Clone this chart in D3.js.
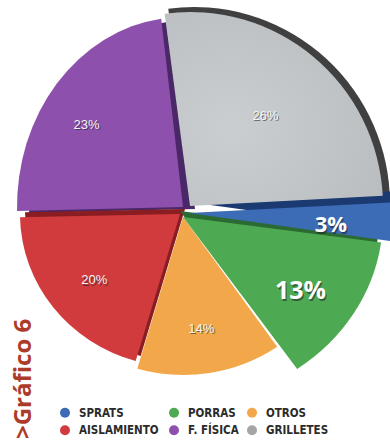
<!DOCTYPE html>
<html>
<head>
<meta charset="utf-8">
<script src="https://cdn.jsdelivr.net/npm/d3@7"></script>
<style>
  body { margin: 0; background: #fff; }
  svg { display: block; }
  .legend text {
    font-family: "DejaVu Sans Condensed", "DejaVu Sans", sans-serif;
    font-stretch: condensed;
    font-weight: bold;
    font-size: 11.5px;
    fill: #2b2b2b;
  }
  .title {
    font-family: "Open Sans", sans-serif;
    font-weight: bold;
    font-size: 24px;
    fill: #ad3b2b;
  }
</style>
</head>
<body>
<script>

    // data
    var categories = ["SPRATS", "PORRAS", "OTROS", "AISLAMIENTO", "F. FÍSICA", "GRILLETES"];
    var values = [3, 13, 14, 20, 23, 26];
    var labels = ["3%", "13%", "14%", "20%", "23%", "26%"];

    var colors = ["#3b6cb5", "#4eaa52", "#f2a84a", "#d23b3e", "#8d50ad", "#c2c5c8"];
    var shades = ["#1b3a72", "#2b6a32", "#d38a33", "#8a1d21", "#4a2766", "#404040"];
    var dots = ["#3b6cb5", "#4eaa52", "#f2a84a", "#d23b3e", "#8d50ad", "#a3a5a7"];

    // per slice drawing: apex, radii, side offset (3d wall), label radius and nudge
    var slices = [
        {cx: 189, cy: 213, rx: 210, ry: 210, side: [0, -11], lr: 142, dy: 4, size: 22, big: true},
        {cx: 183, cy: 217, rx: 200, ry: 185, side: [-3, -6], lr: 138, dy: 0, size: 25, big: true},
        {cx: 183, cy: 217, rx: 165, ry: 158, side: [0, 0], lr: 113, dy: 0, size: 13},
        {cx: 180, cy: 214, rx: 160, ry: 153, side: [5, -5], lr: 108, dy: 0, size: 13},
        {cx: 183, cy: 207, rx: 166, ry: 190, side: [12, 2], lr: 127, dy: 0, size: 13},
        {cx: 190, cy: 206, rx: 193, ry: 194, side: [4, -2], lr: 118, dy: 0, size: 13}
    ];

    var width = 390, height = 441;

    var svg = d3.select("body").append("svg")
        .attr("width", width)
        .attr("height", height);

    var defs = svg.append("defs");
    var grad = defs.append("radialGradient")
        .attr("id", "grayface")
        .attr("cx", "30%").attr("cy", "60%").attr("r", "80%");
    grad.append("stop").attr("offset", "0%").attr("stop-color", "#cbced0");
    grad.append("stop").attr("offset", "100%").attr("stop-color", "#b9bdc0");

    var start = 87 * Math.PI / 180;
    var pie = d3.pie().sort(null).value(function (d) { return d; })
        .startAngle(start).endAngle(start + 2 * Math.PI);
    var arcs = pie(values);

    function arcFor(i, extra) {
        return d3.arc()
            .innerRadius(0)
            .outerRadius(slices[i].ry + (extra || 0))
            .startAngle(arcs[i].startAngle)
            .endAngle(arcs[i].endAngle)();
    }

    function place(i, dx, dy) {
        var s = slices[i];
        return "translate(" + (s.cx + dx) + "," + (s.cy + dy) + ") scale(" + (s.rx / s.ry) + ",1)";
    }

    // back to front
    var order = [5, 4, 3, 2, 1, 0];

    var sides = svg.append("g").attr("class", "sides");
    order.forEach(function (i) {
        var s = slices[i];
        if (s.side[0] === 0 && s.side[1] === 0) return;
        sides.append("path")
            .attr("d", arcFor(i, i === 5 ? 3 : 0))
            .attr("transform", place(i, s.side[0], s.side[1]))
            .style("fill", shades[i]);
    });

    var faces = svg.append("g").attr("class", "faces");
    order.forEach(function (i) {
        faces.append("path")
            .attr("d", arcFor(i))
            .attr("transform", place(i, 0, 0))
            .style("fill", i === 5 ? "url(#grayface)" : colors[i]);
    });

    // percentage labels
    var lab = svg.append("g").attr("class", "labels");
    arcs.forEach(function (a, i) {
        var s = slices[i];
        var mid = (a.startAngle + a.endAngle) / 2;
        var x = s.cx + Math.sin(mid) * s.lr;
        var y = s.cy - Math.cos(mid) * s.lr + s.dy;
        var font = s.big ? "'Open Sans', sans-serif" : "'Liberation Sans', sans-serif";
        var weight = s.big ? "bold" : "normal";
        lab.append("text")
            .attr("x", x + 1.2).attr("y", y + 1.5)
            .attr("text-anchor", "middle")
            .attr("dominant-baseline", "central")
            .style("font-family", font).style("font-weight", weight)
            .style("font-size", s.size + "px")
            .style("fill", "rgba(30,30,30,0.55)")
            .text(labels[i]);
        lab.append("text")
            .attr("x", x).attr("y", y)
            .attr("text-anchor", "middle")
            .attr("dominant-baseline", "central")
            .style("font-family", font).style("font-weight", weight)
            .style("font-size", s.size + "px")
            .style("fill", s.big ? "#ffffff" : "#f3f3f3")
            .text(labels[i]);
    });

    // legend: 3 columns, 2 rows
    var colX = function (c) { return [65, 174, 252][c]; };
    var rowY = d3.scaleBand().domain([0, 1]).range([404, 439]);

    var legend = svg.append("g").attr("class", "legend");
    categories.forEach(function (name, i) {
        var c = i % 3, r = Math.floor(i / 3);
        var y = rowY(r) + rowY.bandwidth() / 2;
        legend.append("circle")
            .attr("cx", colX(c)).attr("cy", y)
            .attr("r", 5)
            .style("fill", dots[i]);
        legend.append("text")
            .attr("x", colX(c) + 14).attr("y", y)
            .attr("dominant-baseline", "central")
            .text(name);
    });

    // vertical title
    svg.append("text")
        .attr("class", "title")
        .attr("transform", "translate(31,439) rotate(-90)")
        .text(">Gráfico 6");

</script>
</body>
</html>
